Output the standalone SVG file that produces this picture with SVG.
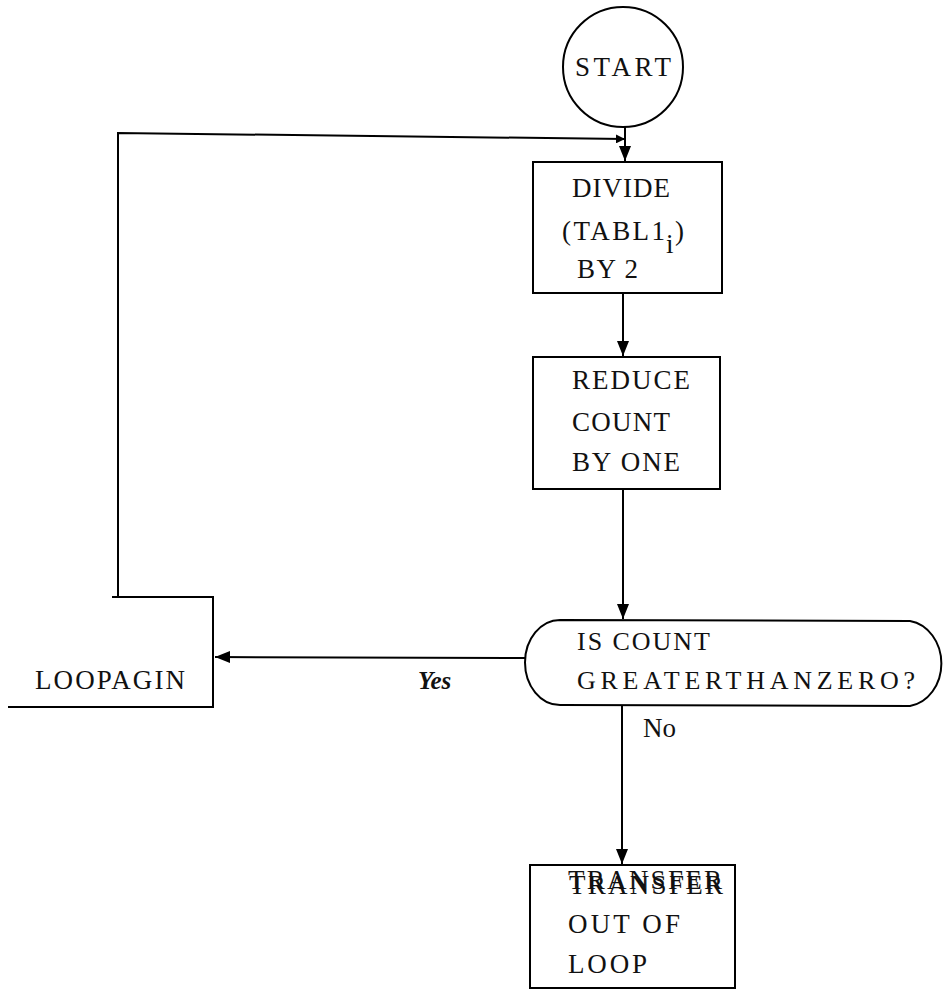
<svg xmlns="http://www.w3.org/2000/svg" width="948" height="996" viewBox="0 0 948 996">
<style>
.s{fill:none;stroke:#000;stroke-width:2}
.t{font-family:"Liberation Serif","Times New Roman",serif;font-size:27px;fill:#111}
.d{font-size:26px}
.y{font-family:"Liberation Serif","Times New Roman",serif;font-size:25px;font-weight:bold;font-style:italic;fill:#111}
</style>
<defs>
<marker id="a" viewBox="0 0 10 10" refX="10" refY="5" markerWidth="9" markerHeight="9" orient="auto" markerUnits="userSpaceOnUse">
<path d="M0,0 L10,5 L0,10 z" fill="#000"/>
</marker>
<marker id="b" viewBox="0 0 10 10" refX="10" refY="5" markerWidth="15" markerHeight="15" orient="auto" markerUnits="userSpaceOnUse">
<path d="M0,1 L10,5 L0,9 z" fill="#000"/>
</marker>
</defs>
<rect width="948" height="996" fill="#fff"/>
<g id="start">
<circle class="s" cx="623" cy="67" r="60"/>
<text class="t" x="575" y="76" textLength="96" lengthAdjust="spacing">START</text>
</g>
<g id="divide">
<rect class="s" x="533" y="162" width="189" height="131"/>
<text class="t" x="572" y="197" textLength="98" lengthAdjust="spacing">DIVIDE</text>
<text class="t" x="562" y="240" textLength="103" lengthAdjust="spacing">(TABL1</text>
<text class="t" x="666" y="253" font-size="21">i</text>
<text class="t" x="675" y="240">)</text>
<text class="t" x="577" y="278" textLength="61" lengthAdjust="spacing">BY 2</text>
</g>
<g id="reduce">
<rect class="s" x="533" y="357" width="187" height="132"/>
<text class="t" x="572" y="389" textLength="118" lengthAdjust="spacing">REDUCE</text>
<text class="t" x="572" y="431" textLength="98" lengthAdjust="spacing">COUNT</text>
<text class="t" x="572" y="471" textLength="108" lengthAdjust="spacing">BY ONE</text>
</g>
<g id="decision">
<path class="s" d="M560,620 L910,621 A37,43 0 0 1 910,706 L560,705 A35,42.5 0 0 1 560,620 Z"/>
<text class="t d" x="577" y="650" textLength="133" lengthAdjust="spacing">IS COUNT</text>
<text class="t d" x="577" y="689" textLength="338" lengthAdjust="spacing">GREATERTHANZERO?</text>
</g>
<g id="loopagain">
<path class="s" d="M8,707 L213,707 L213,597 L112,597"/>
<text class="t" x="35" y="689" font-size="28" textLength="150" lengthAdjust="spacing">LOOPAGIN</text>
</g>
<g id="transfer">
<rect class="s" x="530" y="865" width="205" height="123"/>
<text class="t" x="568" y="889" textLength="154" lengthAdjust="spacing">TRANSFER</text>
<text class="t" x="569" y="894" textLength="154" lengthAdjust="spacing">TRANSFER</text>
<text class="t" x="568" y="933" textLength="112" lengthAdjust="spacing">OUT OF</text>
<text class="t" x="568" y="973" textLength="79" lengthAdjust="spacing">LOOP</text>
</g>
<g id="connectors">
<path class="s" d="M625,127 L625,161" marker-end="url(#b)"/>
<path class="s" d="M118,597 L118,133 L625,139" marker-end="url(#a)"/>
<path class="s" d="M623,293 L623,356" marker-end="url(#b)"/>
<path class="s" d="M623,489 L623,619" marker-end="url(#b)"/>
<path class="s" d="M525,658 L215,657" marker-end="url(#b)"/>
<path class="s" d="M622,706 L622,864" marker-end="url(#b)"/>
<text class="y" x="418" y="689">Yes</text>
<text class="t" x="643" y="737" font-size="24">No</text>
</g>
</svg>
